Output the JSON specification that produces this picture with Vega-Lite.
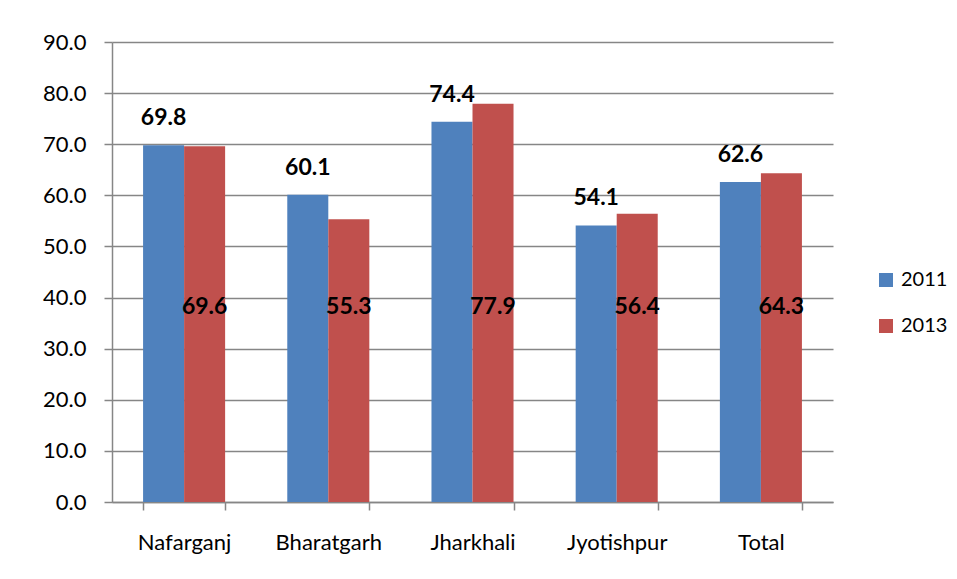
{
  "$schema": "https://vega.github.io/schema/vega-lite/v6.json",
  "width": 721,
  "height": 460,
  "autosize": {"type": "none"},
  "padding": {"left": 112, "top": 42, "right": 124, "bottom": 77},
  "background": "white",
  "config": {
    "view": {"stroke": null},
    "font": "Lato"
  },
  "data": {
    "values": [
      {"site": "Nafarganj", "year": "2011", "value": 69.8},
      {"site": "Nafarganj", "year": "2013", "value": 69.6},
      {"site": "Bharatgarh", "year": "2011", "value": 60.1},
      {"site": "Bharatgarh", "year": "2013", "value": 55.3},
      {"site": "Jharkhali", "year": "2011", "value": 74.4},
      {"site": "Jharkhali", "year": "2013", "value": 77.9},
      {"site": "Jyotishpur", "year": "2011", "value": 54.1},
      {"site": "Jyotishpur", "year": "2013", "value": 56.4},
      {"site": "Total", "year": "2011", "value": 62.6},
      {"site": "Total", "year": "2013", "value": 64.3}
    ]
  },
  "encoding": {
    "x": {
      "field": "site", "type": "nominal", "sort": null,
      "scale": {"paddingInner": 0.431, "paddingOuter": 0.2155},
      "axis": {
        "title": null, "labelAngle": 0, "labelFont": "Lato", "labelFontSize": 22,
        "labelColor": "#000000", "tickBand": "extent", "tickSize": 8,
        "tickColor": "#868686", "tickWidth": 1.5, "domainColor": "#868686",
        "domainWidth": 1.5, "labelPadding": 22, "grid": false
      }
    },
    "xOffset": {"field": "year", "type": "nominal", "scale": {"paddingInner": 0, "paddingOuter": 0}}
  },
  "layer": [
    {
      "mark": {"type": "bar"},
      "encoding": {
        "y": {
          "field": "value", "type": "quantitative",
          "scale": {"domain": [0, 90], "nice": false},
          "axis": {
            "title": null, "values": [0, 10, 20, 30, 40, 50, 60, 70, 80, 90],
            "format": ".1f", "labelFont": "Lato", "labelFontSize": 22,
            "labelColor": "#000000", "tickSize": 8, "tickColor": "#868686",
            "tickWidth": 1.5, "gridColor": "#868686", "gridWidth": 1.5,
            "domainColor": "#868686", "domainWidth": 1.5, "labelPadding": 18
          }
        },
        "color": {
          "field": "year", "type": "nominal",
          "scale": {"domain": ["2011", "2013"], "range": ["#4F81BD", "#C0504D"]},
          "legend": {
            "title": null, "orient": "none", "legendX": 764, "legendY": 228,
            "symbolType": "square", "symbolSize": 196, "symbolStrokeWidth": 0,
            "labelFont": "Lato", "labelFontSize": 20, "labelColor": "#000000",
            "labelOffset": 5, "rowPadding": 26
          }
        }
      }
    },
    {
      "transform": [{"filter": "datum.year == '2011'"}],
      "mark": {"type": "text", "font": "Lato", "fontWeight": "bold", "fontSize": 23, "baseline": "middle", "dy": -27, "color": "#000000"},
      "encoding": {
        "y": {"field": "value", "type": "quantitative"},
        "text": {"field": "value", "type": "quantitative", "format": ".1f"}
      }
    },
    {
      "transform": [{"filter": "datum.year == '2013'"}],
      "mark": {"type": "text", "font": "Lato", "fontWeight": "bold", "fontSize": 23, "baseline": "middle", "color": "#000000"},
      "encoding": {
        "y": {"datum": 38.2},
        "text": {"field": "value", "type": "quantitative", "format": ".1f"}
      }
    }
  ]
}
